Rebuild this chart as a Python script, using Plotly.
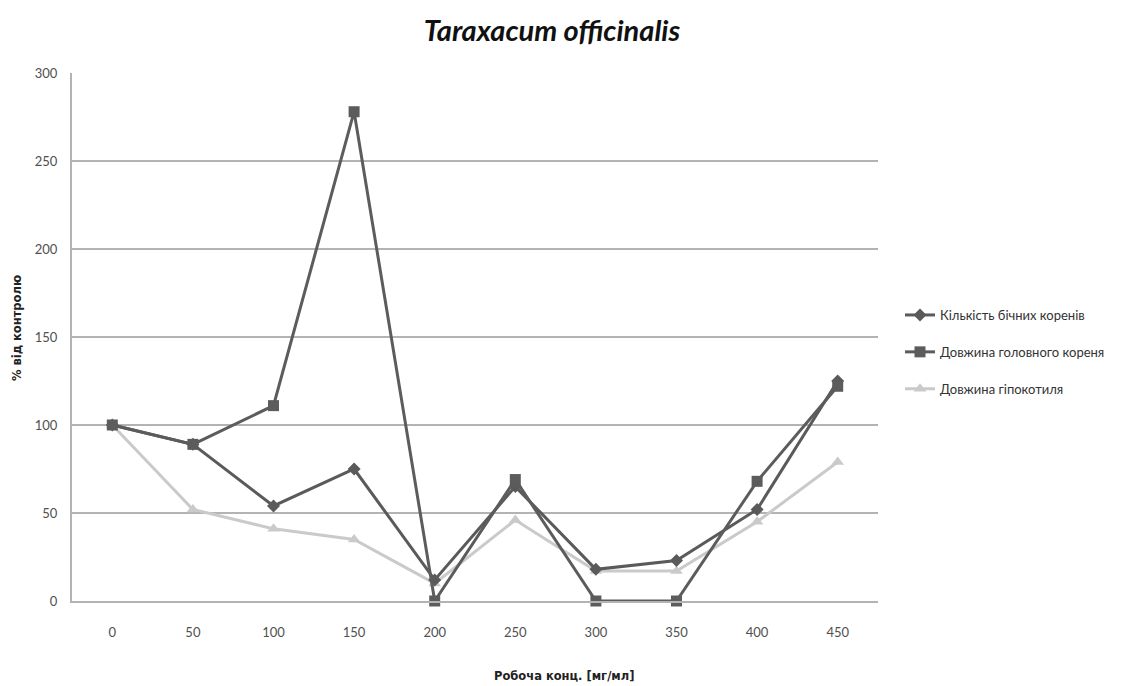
import plotly.graph_objects as go

# Concentrations (mg/ml) and response as % of control
concentrations = ["0", "50", "100", "150", "200", "250", "300", "350", "400", "450"]
lateral_roots = [100, 89, 54, 75, 12, 65, 18, 23, 52, 125]
main_root_length = [100, 89, 111, 278, 0, 69, 0, 0, 68, 122]
hypocotyl_length = [100, 52, 41, 35, 10, 46, 17, 17, 45, 79]

series_names = [
    "Кількість бічних коренів",
    "Довжина головного кореня",
    "Довжина гіпокотиля",
]

W, H = 1138, 686
L, R, T, B = 72, 260, 73, 85
FONT = "Lato"
AXIS_TITLE_FONT = "DejaVu Sans"
TICK_COLOR = "#505050"
GRID_COLOR = "#b3b3b3"

fig = go.Figure()

styles = [
    dict(values=lateral_roots, color="#5a5a5a", symbol="diamond", size=10),
    dict(values=main_root_length, color="#5c5c5c", symbol="square", size=11),
    dict(values=hypocotyl_length, color="#cacaca", symbol="triangle-up", size=11),
]

for i, (name, st) in enumerate(zip(series_names, styles)):
    fig.add_trace(go.Scatter(
        x=concentrations,
        y=st["values"],
        name=name,
        legendgroup=f"g{i}",
        legendrank=i + 1,
        mode="lines+markers",
        line=dict(color=st["color"], width=3),
        marker=dict(color=st["color"], symbol=st["symbol"], size=st["size"]),
        cliponaxis=False,
    ))

# Draw order: light series behind dark ones
fig.data = (fig.data[2], fig.data[0], fig.data[1])

fig.update_layout(
    width=W, height=H,
    margin=dict(l=L, r=R, t=T, b=B),
    paper_bgcolor="white",
    plot_bgcolor="white",
    font=dict(family=FONT, color=TICK_COLOR, size=13),
    title=dict(
        text="<b><i>Taraxacum officinalis</i></b>",
        x=552 / W, xref="container", xanchor="center",
        y=1 - 31 / H, yref="container", yanchor="middle",
        font=dict(family=FONT, size=29, color="#111111"),
    ),
    legend=dict(
        xref="container", yref="container",
        x=900 / W, y=1 - 300 / H,
        xanchor="left", yanchor="top",
        font=dict(family=FONT, size=13, color="#333333"),
        tracegroupgap=17,
        bgcolor="rgba(0,0,0,0)",
        itemwidth=30,
    ),
    showlegend=True,
)

fig.update_xaxes(
    type="category",
    categoryorder="array",
    categoryarray=concentrations,
    range=[-0.5, 9.5],
    showgrid=False,
    showline=True,
    linecolor=GRID_COLOR,
    linewidth=2,
    ticks="",
    ticklabelstandoff=18,
    tickfont=dict(size=13, color=TICK_COLOR),
    zeroline=False,
)

fig.update_yaxes(
    range=[0, 300],
    dtick=50,
    tick0=0,
    showgrid=True,
    gridcolor=GRID_COLOR,
    gridwidth=2,
    showline=True,
    linecolor=GRID_COLOR,
    linewidth=2,
    ticks="",
    ticklabelstandoff=10,
    tickfont=dict(size=13, color=TICK_COLOR),
    zeroline=False,
)

# Axis titles
fig.add_annotation(
    text="<b>% від контролю</b>",
    xref="paper", yref="paper",
    x=-55 / (W - L - R), y=(H - B - 328) / (H - T - B),
    textangle=-90, showarrow=False,
    font=dict(family=AXIS_TITLE_FONT, size=11.5, color="#222222"),
    xanchor="center", yanchor="middle",
)
fig.add_annotation(
    text="<b>Робоча конц. [мг/мл]</b>",
    xref="paper", yref="paper",
    x=(564 - L) / (W - L - R), y=-(676 - (H - B)) / (H - T - B),
    showarrow=False,
    font=dict(family=AXIS_TITLE_FONT, size=11.5, color="#222222"),
    xanchor="center", yanchor="middle",
)

fig.write_html("out.html")
